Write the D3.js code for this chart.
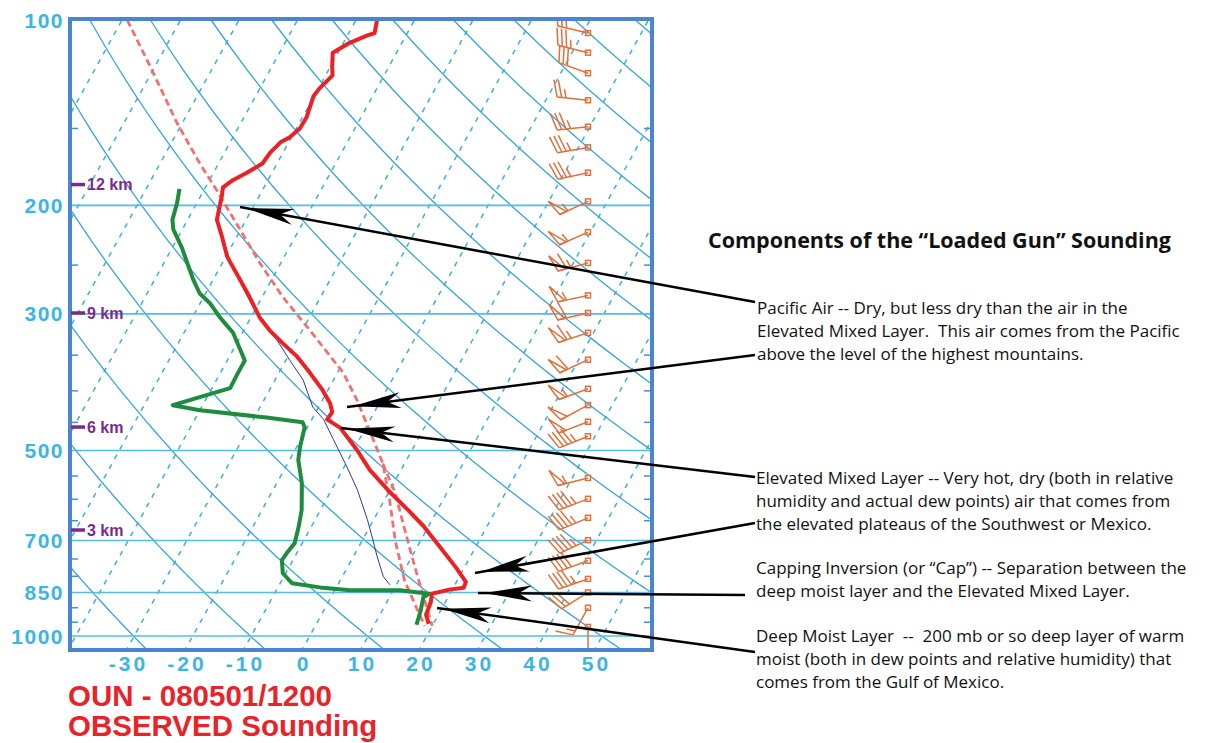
<!DOCTYPE html>
<html>
<head>
<meta charset="utf-8">
<script src="https://cdn.jsdelivr.net/npm/d3@7"></script>
<style>
body { margin: 0; background: #fff; }
svg { display: block; }
</style>
</head>
<body>
<script>
// OUN 080501/1200 observed sounding (hPa, deg C, kt)
var tempP = [100, 105, 106, 109, 113, 119, 123, 129, 133, 144, 150, 155, 158, 164, 171, 177, 182, 187, 194, 198, 211, 225, 242, 247, 264, 282, 304, 319, 335, 352, 374, 399, 419, 433, 445, 459, 499, 538, 585, 623, 663, 717, 776, 817, 835, 841, 854, 880, 924, 956];
var tempT = [-46.4, -45.6, -46.7, -49.0, -50.9, -49.7, -48.8, -49.8, -50.1, -49.3, -49.4, -50.3, -51.4, -52.2, -52.5, -54.3, -56.0, -57.0, -56.3, -56.0, -55.0, -52.5, -49.8, -48.8, -45.4, -42.1, -38.5, -35.6, -32.1, -28.4, -24.7, -20.9, -18.4, -17.2, -17.4, -14.4, -9.4, -5.3, 0.3, 4.8, 9.1, 13.9, 18.7, 21.6, 21.8, 19.5, 16.9, 17.5, 17.9, 19.2];

var dewP = [188, 198, 211, 219, 234, 248, 264, 278, 288, 304, 322, 357, 374, 396, 422, 430, 442, 450, 458, 494, 518, 565, 625, 663, 707, 733, 753, 791, 821, 834, 843, 843, 854, 866, 911, 959];
var dewT = [-64.3, -63.4, -62.6, -61.5, -58.4, -56.0, -53.4, -51.0, -48.4, -45.3, -41.6, -37.0, -37.0, -36.9, -45.1, -40.0, -27.9, -21.3, -20.5, -19.4, -18.5, -15.7, -13.2, -12.2, -11.3, -11.7, -11.9, -10.5, -8.0, -2.8, 2.6, 11.1, 16.4, 15.8, 16.6, 17.2];

// thin navy trace
var thinP = [274, 307, 331, 357, 384, 425, 445, 480, 532, 579, 647, 699, 744, 801, 826];
var thinT = [-43.8, -38.2, -33.4, -29.3, -25.2, -21.0, -18.0, -14.4, -9.5, -5.6, -1.1, 1.8, 4.1, 7.0, 8.9];

// dashed parcel traces
var parcelP = [100, 119, 147, 171, 189, 214, 248, 282, 319, 374, 414, 480, 525, 602, 699, 813, 910, 963];
var parcelT = [-89.1, -80.8, -70.9, -63.2, -57.8, -51.3, -43.6, -36.4, -28.7, -19.0, -14.1, -7.6, -3.7, 0.9, 5.6, 11.0, 16.1, 18.7];
var parcel2P = [525, 585, 673, 769, 858, 963];
var parcel2T = [-3.7, 1.1, 6.3, 11.3, 15.5, 20.0];

// winds
var windP = [105, 113, 122, 135, 149, 161, 177, 197, 221, 248, 280, 299, 322, 356, 397, 422, 449, 474, 554, 599, 643, 699, 755, 808, 850, 900, 967];
var windDir = [283, 284, 290, 276, 264, 260, 258, 245, 246, 255, 258, 257, 252, 245, 250, 242, 249, 248, 256, 249, 247, 245, 250, 251, 238, 209, 180];
var windSpd = [25, 35, 30, 25, 35, 35, 35, 55, 55, 65, 55, 60, 65, 60, 55, 50, 50, 45, 55, 45, 45, 45, 40, 45, 30, 15, 5];

// axis labels
var pLabels = [100, 200, 300, 500, 700, 850, 1000];
var pTicks = [150, 250, 350, 400, 450, 550, 600, 650, 750, 800, 900, 950];
var tLabels = [-30, -20, -10, 0, 10, 20, 30, 40, 50];
var heightKm = [3, 6, 9, 12];
var heightP = [673, 458, 299, 185];

var notes = [
  { lines: ["Pacific Air -- Dry, but less dry than the air in the",
            "Elevated Mixed Layer.  This air comes from the Pacific",
            "above the level of the highest mountains."], x: 757, y: 314,
    arrows: [[755, 302, 240, 207], [755, 355, 347, 407]] },
  { lines: ["Elevated Mixed Layer -- Very hot, dry (both in relative",
            "humidity and actual dew points) air that comes from",
            "the elevated plateaus of the Southwest or Mexico."], x: 756, y: 484,
    arrows: [[755, 477, 341, 428], [755, 523, 475, 573]] },
  { lines: ["Capping Inversion (or \u201cCap\u201d) -- Separation between the",
            "deep moist layer and the Elevated Mixed Layer."], x: 756, y: 574,
    arrows: [[745, 595, 478, 593]] },
  { lines: ["Deep Moist Layer  --  200 mb or so deep layer of warm",
            "moist (both in dew points and relative humidity) that",
            "comes from the Gulf of Mexico."], x: 756, y: 642,
    arrows: [[755, 652, 437, 608]] }
];

var W = 1210, H = 743;
var fL = 70, fR = 652, fT = 19, fB = 650;

var svg = d3.select("body").append("svg").attr("width", W).attr("height", H);

var y = d3.scaleLog().domain([100, 1050]).range([20, 649]);
var t = d3.scaleLinear().domain([-40, 60]).range([68, 653]);
var skew = 0.55;
function sx(T, p) { return t(T) + skew * (fB - y(p)); }

svg.append("clipPath").attr("id", "frame")
  .append("rect").attr("x", fL).attr("y", fT).attr("width", fR - fL).attr("height", fB - fT);

var grid = svg.append("g").attr("clip-path", "url(#frame)");

// isotherms (dashed)
grid.selectAll("line.iso")
  .data(d3.range(-140, 70, 10))
  .enter().append("line")
    .attr("x1", function(d) { return sx(d, 1100); })
    .attr("y1", y(1100))
    .attr("x2", function(d) { return sx(d, 95); })
    .attr("y2", y(95))
    .attr("stroke", "#3eaedc")
    .attr("stroke-width", 1.5)
    .attr("stroke-dasharray", "5,6");

// dry adiabats
var adiabat = d3.line()
  .x(function(d) { return d[0]; })
  .y(function(d) { return d[1]; });
grid.selectAll("path.dry")
  .data(d3.range(183, 580, 20))
  .enter().append("path")
    .attr("d", function(th) {
      return adiabat(d3.range(1100, 90, -10).map(function(p) {
        var T = th * Math.pow(p / 1000, 0.2857) - 273.15;
        return [sx(T, p), y(p)];
      }));
    })
    .attr("fill", "none")
    .attr("stroke", "#36a5d6")
    .attr("stroke-width", 1.3);

// isobars
grid.selectAll("line.bar")
  .data(pLabels.slice(1))
  .enter().append("line")
    .attr("x1", fL).attr("x2", fR)
    .attr("y1", function(d) { return y(d); })
    .attr("y2", function(d) { return y(d); })
    .attr("stroke", "#55bce8")
    .attr("stroke-width", 1.6);

// small pressure ticks on both edges
pTicks.forEach(function(p) {
  grid.append("line").attr("x1", fL).attr("x2", fL + 8)
    .attr("y1", y(p)).attr("y2", y(p)).attr("stroke", "#4a90d0").attr("stroke-width", 1.5);
  grid.append("line").attr("x1", fR - 8).attr("x2", fR)
    .attr("y1", y(p)).attr("y2", y(p)).attr("stroke", "#4a90d0").attr("stroke-width", 1.5);
});

// profiles
var prof = d3.line()
  .x(function(d) { return sx(d[1], d[0]); })
  .y(function(d) { return y(d[0]); });
function zip(a, b) { return a.map(function(v, i) { return [v, b[i]]; }); }

grid.append("path").datum(zip(parcelP, parcelT))
  .attr("d", prof).attr("fill", "none")
  .attr("stroke", "#f27070").attr("stroke-width", 2.8).attr("stroke-dasharray", "7,4");
grid.append("path").datum(zip(parcel2P, parcel2T))
  .attr("d", prof).attr("fill", "none")
  .attr("stroke", "#f27070").attr("stroke-width", 2.8).attr("stroke-dasharray", "7,4");
grid.append("path").datum(zip(thinP, thinT))
  .attr("d", prof).attr("fill", "none")
  .attr("stroke", "#35359a").attr("stroke-width", 1);
grid.append("path").datum(zip(dewP, dewT))
  .attr("d", prof).attr("fill", "none")
  .attr("stroke", "#1d8c3c").attr("stroke-width", 4).attr("stroke-linejoin", "round");
grid.append("path").datum(zip(tempP, tempT))
  .attr("d", prof).attr("fill", "none")
  .attr("stroke", "#ec2124").attr("stroke-width", 4).attr("stroke-linejoin", "round");

// wind barbs
var barbs = svg.append("g").attr("clip-path", "url(#frame)")
  .attr("stroke", "#e0703c").attr("fill", "none").attr("stroke-width", 1.5);
windP.forEach(function(p, i) {
  var bx = 588, by = y(p);
  var a = windDir[i] * Math.PI / 180, ux = Math.sin(a), uy = -Math.cos(a);
  var nx = -uy, ny = ux;
  var L = 31, F = 17, gap = 4.5;
  var ex = bx + L * ux, ey = by + L * uy;
  barbs.append("line").attr("x1", bx).attr("y1", by).attr("x2", ex).attr("y2", ey);
  barbs.append("rect").attr("x", bx - 2.5).attr("y", by - 2.5).attr("width", 5).attr("height", 5);
  var s = windSpd[i];
  var n50 = Math.floor(s / 50), n10 = Math.floor((s - n50 * 50) / 10), n5 = Math.round((s - n50 * 50 - n10 * 10) / 5);
  var pos = 0;
  function pt(d) { return [ex - ux * d, ey - uy * d]; }
  for (var k = 0; k < n50; k++) {
    var a0 = pt(pos), a1 = pt(pos + gap * 1.6);
    barbs.append("path")
      .attr("d", "M" + a0 + "L" + [a0[0] + nx * F + ux * F * 0.3, a0[1] + ny * F + uy * F * 0.3] + "L" + a1 + "Z");
    pos += gap * 2;
  }
  for (k = 0; k < n10; k++) {
    var b0 = pt(pos);
    barbs.append("line").attr("x1", b0[0]).attr("y1", b0[1])
      .attr("x2", b0[0] + nx * F + ux * F * 0.3).attr("y2", b0[1] + ny * F + uy * F * 0.3);
    pos += gap;
  }
  if (n5) {
    if (pos === 0) pos = gap;
    var c0 = pt(pos);
    barbs.append("line").attr("x1", c0[0]).attr("y1", c0[1])
      .attr("x2", c0[0] + nx * F * 0.5 + ux * F * 0.15).attr("y2", c0[1] + ny * F * 0.5 + uy * F * 0.15);
  }
});

// frame
svg.append("rect").attr("x", fL).attr("y", fT).attr("width", fR - fL).attr("height", fB - fT)
  .attr("fill", "none").attr("stroke", "#4a86cf").attr("stroke-width", 4);

// height markers
heightP.forEach(function(p, i) {
  svg.append("line").attr("x1", fL + 1).attr("x2", fL + 15)
    .attr("y1", y(p)).attr("y2", y(p)).attr("stroke", "#7a2a8e").attr("stroke-width", 3.5);
  svg.append("text").attr("x", fL + 17).attr("y", y(p)).attr("dy", "0.36em")
    .attr("font-family", "Liberation Sans, Arial, sans-serif").attr("font-weight", "bold")
    .attr("font-size", 16).attr("fill", "#7a2a8e")
    .text(heightKm[i] + " km");
});

// pressure labels
svg.selectAll("text.plab")
  .data(pLabels)
  .enter().append("text")
    .attr("x", 64)
    .attr("y", function(d) { return y(d); })
    .attr("dy", "0.36em")
    .attr("text-anchor", "end")
    .attr("font-family", "Liberation Sans, Arial, sans-serif")
    .attr("font-weight", "bold")
    .attr("font-size", 21)
    .attr("letter-spacing", 1.5)
    .attr("fill", "#3db4e6")
    .text(function(d) { return d; });

// temperature labels
svg.selectAll("text.tlab")
  .data(tLabels)
  .enter().append("text")
    .attr("x", function(d) { return t(d) + 2; })
    .attr("y", 671)
    .attr("text-anchor", "middle")
    .attr("font-family", "Liberation Sans, Arial, sans-serif")
    .attr("font-weight", "bold")
    .attr("font-size", 21)
    .attr("letter-spacing", 3)
    .attr("fill", "#3db4e6")
    .text(function(d) { return d; });

// title
svg.append("text").attr("x", 68).attr("y", 706)
  .attr("font-family", "Liberation Sans, Arial, sans-serif").attr("font-weight", "bold")
  .attr("font-size", 29.5).attr("fill", "#e8232a").text("OUN - 080501/1200");
svg.append("text").attr("x", 68).attr("y", 736)
  .attr("font-family", "Liberation Sans, Arial, sans-serif").attr("font-weight", "bold")
  .attr("font-size", 29.5).attr("fill", "#e8232a").text("OBSERVED Sounding");

// annotations
svg.append("text").attr("x", 708).attr("y", 248)
  .attr("font-family", "Open Sans, sans-serif").attr("font-weight", "bold")
  .attr("font-size", 21.5).attr("fill", "#111")
  .text("Components of the \u201cLoaded Gun\u201d Sounding");

var ann = svg.append("g");
notes.forEach(function(n) {
  n.lines.forEach(function(l, i) {
    ann.append("text").attr("x", n.x).attr("y", n.y + i * 23)
      .attr("font-family", "Open Sans, sans-serif").attr("font-size", 17).attr("fill", "#111")
      .style("white-space", "pre")
      .text(l);
  });
  n.arrows.forEach(function(a) {
    var x0 = a[0], y0 = a[1], x1 = a[2], y1 = a[3];
    var len = Math.hypot(x1 - x0, y1 - y0), vx = (x1 - x0) / len, vy = (y1 - y0) / len;
    var qx = -vy, qy = vx;
    ann.append("line").attr("x1", x0).attr("y1", y0).attr("x2", x1).attr("y2", y1)
      .attr("stroke", "#000").attr("stroke-width", 2.5);
    var tip = [x1 - vx * 6, y1 - vy * 6], Lh = 48, w = 8;
    var b1 = [tip[0] - vx * Lh + qx * w, tip[1] - vy * Lh + qy * w];
    var b2 = [tip[0] - vx * Lh - qx * w, tip[1] - vy * Lh - qy * w];
    var nt = [tip[0] - vx * Lh * 0.72, tip[1] - vy * Lh * 0.72];
    ann.append("path").attr("d", "M" + tip + "L" + b1 + "L" + nt + "L" + b2 + "Z").attr("fill", "#000");
  });
});
</script>
</body>
</html>
